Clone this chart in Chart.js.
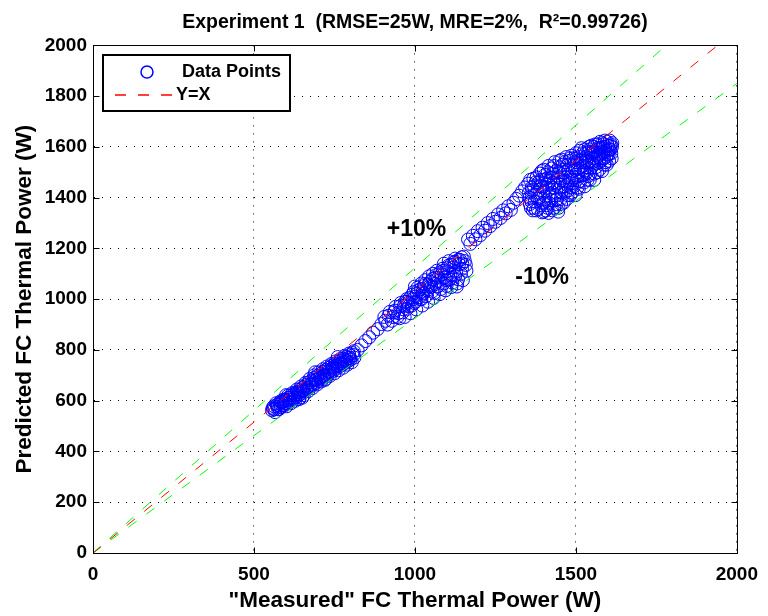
<!DOCTYPE html>
<html>
<head>
<meta charset="utf-8">
<title>Experiment 1</title>
<script src="https://cdn.jsdelivr.net/npm/chart.js@4.4.1/dist/chart.umd.min.js"></script>
<style>
body{margin:0;background:#fff;}
canvas{display:block;}
</style>
</head>
<body>
<canvas id="fcChart" width="768" height="616"></canvas>
<script>

/* AXIS TICKS */

const xTicks=[0,500,1000,1500,2000];
const yTicks=[0,200,400,600,800,1000,1200,1400,1600,1800,2000];


/* MEASURED VS PREDICTED FC THERMAL POWER (W) */

const measured=[
556,562,566,571,575,580,584,589,593,598,602,607,611,616,620,625,629,634,638,643,
647,652,656,661,665,670,674,679,683,688,692,697,701,706,710,715,719,724,728,733,
737,742,746,751,755,760,764,769,773,778,782,787,791,796,800,806,812,
600,640,690,720,760,650,
558,564,569,574,579,583,588,592,597,601,606,610,615,619,624,628,633,637,642,646,
651,655,660,664,669,673,678,682,687,691,696,700,705,709,714,718,723,727,732,736,
741,745,750,754,759,763,768,772,777,781,786,790,795,799,804,810,
560,573,586,599,612,626,639,652,666,679,692,705,718,731,744,757,770,783,796,809,
822,834,846,858,870,884,896,
908,918,928,938,946,954,962,970,976,984,990,996,1002,1008,1014,1020,1026,1032,1038,1044,
1050,1056,1062,1068,1074,1080,1086,1092,1098,1104,1110,1116,1122,1128,1134,1140,1146,1152,1158,1000,
1020,1060,1090,1130,
905,915,922,932,940,948,956,963,968,974,980,986,992,998,1004,1010,1016,1023,1028,1035,
1041,1047,1053,1058,1064,1070,1077,1083,1089,1095,1101,1107,1113,1119,1125,1131,1137,1143,1149,1155,
1160,1145,1125,1105,
935,952,966,978,994,1006,1018,1030,1042,1055,1066,1078,1088,1100,1112,1124,1135,1147,1118,1098,
1072,1046,1024,1000,975,
1165,1172,1180,1188,1195,1203,1210,1218,1226,1234,1242,1250,1258,1266,1274,1282,1290,1298,1306,1315,
1324,1333,1342,
1352,1356,1360,1364,1368,1372,
1376,1380,1384,1388,1392,1396,1400,1400,
1405,1408,1412,1415,1418,1422,1426,1428,1430,
1434,1437,1440,1444,1447,1450,1453,1456,1460,
1464,1467,1470,1473,1476,1480,1483,1486,1490,
1494,1497,1500,1503,1506,1509,1512,1515,1518,
1522,1525,1528,1531,1534,1537,1540,1543,1546,1549,
1552,1555,1558,1561,1564,1567,1570,1573,1576,1579,
1582,1585,1588,1591,1594,1597,1600,1603,1606,1610,1612,
1354,1358,1362,1366,1370,1374,1378,1382,1386,1390,1394,1398,1402,1406,1410,1413,1416,1420,1424,1427,
1432,1435,1439,1442,1446,1449,1452,1455,1458,1462,1466,1469,1472,1475,1478,1482,1485,1488,1492,1496,
1499,1502,1505,1508,1511,1514,1517,1520,1524,1527,1530,1533,1536,1539,1542,1545,1548,1551,1554,1557,
1560,1563,1566,1569,1572,1575,1578,1581,1584,1587,1590,1593,1596,1599,1602,1605,1608,1611,1613,
1357,1363,1369,1375,1381,1387,1393,1399,1404,1409,1414,1419,1423,1429,1433,1438,1443,1448,1454,1459,
1463,1468,1474,1479,1484,1489,1493,1498,1504,1510,1516,1521,1526,1532,1538,1544,1550,1556,1562,1568,
1574,1580,1586,1592,1598,1604,1609,1445,1415,1395
];

const predicted=[
562,578,555,583,566,590,574,596,580,604,588,612,595,622,604,628,612,636,620,645,
628,652,636,662,645,672,654,680,662,690,670,698,678,705,686,714,694,722,702,730,
710,738,718,745,726,752,734,758,741,765,748,772,755,780,762,788,770,
622,606,712,682,772,612,
572,566,590,576,568,598,582,604,590,578,620,604,590,630,612,600,644,626,612,656,
638,622,670,650,638,686,664,650,700,680,664,712,692,676,724,702,686,735,714,698,
745,726,708,755,738,720,764,748,730,776,758,742,786,768,752,795,
568,585,594,600,612,622,634,642,652,668,682,690,698,716,730,740,748,758,770,780,
800,818,835,850,868,882,902,
915,935,915,955,930,972,948,990,962,1005,975,1028,990,1045,1008,1062,1022,1075,1035,1090,
1048,1100,1060,1112,1072,1040,1120,1085,1052,1132,1095,1065,1145,1108,1078,1155,1120,1168,1135,1050,
1000,1025,1140,1050,
930,900,950,930,970,945,985,960,930,1000,972,945,1018,985,960,1035,1000,975,1052,1012,
990,1068,1030,1005,1085,1050,1020,1098,1062,1035,1110,1078,1048,1125,1092,1062,1138,1100,1075,1150,
1112,1165,1160,1150,
948,925,975,985,1000,1022,1040,1060,1058,1080,1095,1105,1112,1122,1135,1148,1155,1140,1082,1075,
1085,1052,1030,1010,990,
1235,1218,1250,1236,1268,1252,1282,1270,1300,1288,1316,1305,1334,1320,1350,1338,1366,1352,1380,1395,
1408,1425,1440,
1455,1400,1360,1430,1475,1385,
1350,1420,1460,1495,1370,1440,1345,1510,
1405,1475,1360,1525,1435,1390,1350,1495,1460,
1540,1410,1375,1480,1520,1440,1395,1550,1465,
1500,1420,1560,1450,1530,1480,1410,1565,1505,
1445,1540,1575,1470,1515,1435,1585,1550,1490,
1525,1460,1590,1560,1500,1540,1600,1470,1575,1520,
1555,1600,1495,1580,1535,1610,1565,1510,1595,1545,
1615,1580,1530,1600,1560,1620,1585,1545,1605,1575,1600,
1420,1470,1385,1350,1445,1410,1480,1355,1400,1445,1505,1380,1470,1350,1440,1500,1380,1465,1515,1420,
1360,1450,1505,1395,1360,1545,1475,1420,1510,1380,1540,1465,1395,1505,1430,1555,1470,1420,1530,1480,
1410,1555,1440,1500,1560,1465,1595,1540,1490,1445,1575,1520,1470,1580,1545,1495,1605,1580,1530,1470,
1610,1555,1500,1590,1540,1620,1570,1505,1600,1555,1625,1585,1530,1605,1570,1625,1590,1555,1615,
1375,1440,1360,1460,1395,1430,1470,1420,1490,1370,1455,1405,1480,1440,1525,1390,1455,1500,1375,1530,
1445,1480,1410,1545,1440,1470,1555,1510,1540,1465,1520,1575,1505,1545,1485,1590,1540,1575,1520,1595,
1555,1595,1610,1540,1570,1590,1610,1345,1340,1342
];


/* REFERENCE LINES (END POINTS) */

const yxLineX=[0,1940];
const yxLineY=[0,2000];
const upperLineX=[0,1780];
const upperLineY=[0,2000];
const lowerLineX=[0,2000];
const lowerLineY=[0,1850];


/* BAND LABELS */

const bandLabels=['+10%','-10%'];
const bandLabelX=[1005,1395];
const bandLabelY=[1275,1085];


const FONT="'Liberation Sans', Arial, Helvetica, sans-serif";

Chart.defaults.font.family=FONT;
Chart.defaults.font.weight='bold';
Chart.defaults.color='#000';


function toPoints(xs,ys){
return xs.map((v,i)=>({x:v,y:ys[i]}));
}


/* FRAME, INNER TICKS, LEGEND AND BAND TEXT */

const decorations={

id:'decorations',

afterDatasetsDraw(chart){

const ctx=chart.ctx;
const a=chart.chartArea;
const sx=chart.scales.x;
const sy=chart.scales.y;

ctx.save();

ctx.strokeStyle='#000';
ctx.lineWidth=1;

const L=Math.round(a.left)+0.5;
const R=Math.round(a.right)+0.5;
const T=Math.round(a.top)+0.5;
const B=Math.round(a.bottom)+0.5;

ctx.strokeRect(L,T,R-L,B-T);

ctx.beginPath();
xTicks.forEach(v=>{
const px=Math.round(sx.getPixelForValue(v))+0.5;
ctx.moveTo(px,B);ctx.lineTo(px,B-6);
ctx.moveTo(px,T);ctx.lineTo(px,T+6);
});
yTicks.forEach(v=>{
const py=Math.round(sy.getPixelForValue(v))+0.5;
ctx.moveTo(L,py);ctx.lineTo(L+6,py);
ctx.moveTo(R,py);ctx.lineTo(R-6,py);
});
ctx.stroke();


/* band text */

ctx.fillStyle='#000';
ctx.font='bold 23px '+FONT;
ctx.textAlign='center';
ctx.textBaseline='middle';
bandLabels.forEach((t,i)=>{
ctx.fillText(t,sx.getPixelForValue(bandLabelX[i]),sy.getPixelForValue(bandLabelY[i]));
});


/* legend box */

const pts=chart.data.datasets[0];
const yx=chart.data.datasets[1];

const lx=Math.round(a.left)+10;
const ly=Math.round(a.top)+10;

ctx.fillStyle='#fff';
ctx.fillRect(lx,ly,187,56);
ctx.lineWidth=2;
ctx.strokeRect(lx,ly,187,56);

ctx.beginPath();
ctx.arc(lx+44,ly+17,6,0,Math.PI*2);
ctx.strokeStyle=pts.borderColor;
ctx.lineWidth=1.5;
ctx.stroke();

ctx.beginPath();
ctx.setLineDash([11,12]);
ctx.moveTo(lx+12,ly+40);
ctx.lineTo(lx+72,ly+40);
ctx.strokeStyle=yx.borderColor;
ctx.lineWidth=1.5;
ctx.stroke();
ctx.setLineDash([]);

ctx.fillStyle='#000';
ctx.font='bold 18px '+FONT;
ctx.textAlign='left';
ctx.fillText(pts.label,lx+79,ly+17);
ctx.fillText(yx.label,lx+73,ly+40);

ctx.restore();

}

};


/* CREATE CHART */

new Chart(document.getElementById('fcChart'),{

type:'scatter',

data:{
datasets:[
{
label:'Data Points',
data:toPoints(measured,predicted),
borderColor:'#0000ff',
backgroundColor:'rgba(0,0,0,0)',
pointRadius:6.5,
pointHoverRadius:6.5,
borderWidth:1,
order:1
},
{
label:'Y=X',
data:toPoints(yxLineX,yxLineY),
showLine:true,
borderColor:'#ff0000',
borderWidth:1,
borderDash:[10,12],
pointRadius:0,
order:0
},
{
label:'+10%',
data:toPoints(upperLineX,upperLineY),
showLine:true,
borderColor:'#00ff00',
borderWidth:1,
borderDash:[10,12],
pointRadius:0,
order:0
},
{
label:'-10%',
data:toPoints(lowerLineX,lowerLineY),
showLine:true,
borderColor:'#00ff00',
borderWidth:1,
borderDash:[10,12],
pointRadius:0,
order:0
}
]
},

options:{
responsive:false,
animation:false,
devicePixelRatio:1,
layout:{padding:{left:0,right:28,top:0,bottom:0}},

plugins:{
legend:{display:false},
tooltip:{enabled:false},
title:{
display:true,
fullSize:false,
text:'Experiment 1  (RMSE=25W, MRE=2%,  R²=0.99726)',
color:'#000',
font:{size:19.5,weight:'bold'},
padding:{top:11,bottom:11}
}
},

scales:{
x:{
type:'linear',
min:0,
max:2000,
afterBuildTicks:s=>{s.ticks=xTicks.map(v=>({value:v}));},
afterFit:s=>{s.height=63;},
ticks:{color:'#000',font:{size:19,weight:'bold'},padding:10,maxRotation:0,autoSkip:false,callback:v=>String(v)},
grid:{color:'#000',lineWidth:1,drawTicks:false},
border:{display:true,color:'#000',width:1,dash:[1,7]},
title:{display:true,text:'"Measured" FC Thermal Power (W)',color:'#000',font:{size:22.5,weight:'bold'},padding:{top:0,bottom:2}}
},
y:{
type:'linear',
min:0,
max:2000,
afterBuildTicks:s=>{s.ticks=yTicks.map(v=>({value:v}));},
afterFit:s=>{s.width=93;},
ticks:{color:'#000',font:{size:19,weight:'bold'},padding:6,autoSkip:false,callback:v=>String(v)},
grid:{color:'#000',lineWidth:1,drawTicks:false},
border:{display:true,color:'#000',width:1,dash:[1,7]},
title:{display:true,text:'Predicted FC Thermal Power (W)',color:'#000',font:{size:22.5,weight:'bold'},padding:{top:11,bottom:0}}
}
}
},

plugins:[decorations]

});

</script>
</body>
</html>
